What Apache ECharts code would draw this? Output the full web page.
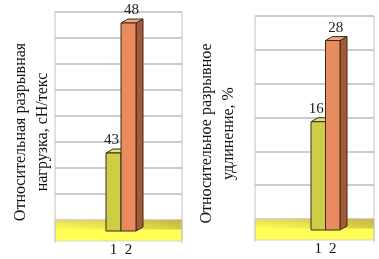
<!DOCTYPE html>
<html>
<head>
<meta charset="utf-8">
<script src="https://cdn.jsdelivr.net/npm/echarts@6/dist/echarts.min.js"></script>
<style>
  html, body { margin: 0; padding: 0; background: #fff; }
  #main { width: 379px; height: 259px; }
</style>
</head>
<body>
<div id="main"></div>
<script>
// данные
const categories = ['1', '2'];
const loadValues = [43, 48];        // относительная разрывная нагрузка, сН/текс
const elongValues = [16, 28];       // относительное разрывное удлинение, %
const loadAxis = [40, 48, 1];       // min, max, interval
const elongAxis = [0, 30, 5];
const loadName = 'Относительная разрывная\nнагрузка, сН/текс';
const elongName = 'Относительное разрывное\nудлинение, %';

const FONT = '"Liberation Serif", "Times New Roman", serif';
const DY = 11, DX = 7, DZ = 4, FLOOR = 21;
const faces = [
    { front: '#cdcd46', top: '#e2e27a', side: '#9a9a2c', labelShift: -2 },
    { front: '#e88c60', top: '#efa77f', side: '#a55a37', labelShift: 3 }
];

let myChart = echarts.init(document.getElementById('main'));

function floorItem(params, api) {
    let cs = params.coordSys;
    let y0 = cs.y + cs.height;
    return {
        type: 'group',
        children: [
            {
                type: 'rect',
                shape: { x: cs.x, y: y0, width: cs.width, height: FLOOR },
                style: {
                    fill: new echarts.graphic.LinearGradient(0, 0, 0, 1, [
                        { offset: 0, color: '#e6dc58' },
                        { offset: 0.45, color: '#ffff55' },
                        { offset: 1, color: '#ffff55' }
                    ]),
                    stroke: '#d6d6c0', lineWidth: 1
                }
            },
            {
                type: 'rect',
                shape: { x: cs.x, y: y0, width: cs.width, height: FLOOR * 0.45 },
                style: {
                    fill: new echarts.graphic.LinearGradient(0, 0, 1, 0, [
                        { offset: 0, color: 'rgba(150,120,30,0)' },
                        { offset: 0.5, color: 'rgba(150,120,30,0.15)' },
                        { offset: 1, color: 'rgba(150,120,30,0.4)' }
                    ])
                }
            },
            {
                type: 'line',
                shape: { x1: cs.x, y1: cs.y, x2: cs.x, y2: y0 + FLOOR + 2 },
                style: { stroke: '#c4c4c4', lineWidth: 1 }
            },
            {
                type: 'line',
                shape: { x1: cs.x + cs.width, y1: cs.y, x2: cs.x + cs.width, y2: y0 + FLOOR + 2 },
                style: { stroke: '#c4c4c4', lineWidth: 1 }
            }
        ]
    };
}

function makeBarItem(axisMin) {
    return function (params, api) {
        let idx = api.value(0);
        let val = api.value(1);
        let c = faces[params.dataIndex];
        let top = api.coord([idx, val]);
        let bot = api.coord([idx, axisMin]);
        let w = api.size([1, 0])[0];
        let x0 = top[0] - w / 2, x1 = top[0] + w / 2;
        let yt = top[1] + DY, yb = bot[1] + DY;
        let stroke = { stroke: '#3b2a1c', lineWidth: 1 };
        return {
            type: 'group',
            children: [
                {
                    type: 'polygon',
                    shape: { points: [[x1, yt], [x1 + DX, yt - DZ], [x1 + DX, yb - DZ], [x1, yb]] },
                    style: Object.assign({ fill: c.side }, stroke)
                },
                {
                    type: 'polygon',
                    shape: { points: [[x0, yt], [x0 + DX, yt - DZ], [x1 + DX, yt - DZ], [x1, yt]] },
                    style: Object.assign({ fill: c.top }, stroke)
                },
                {
                    type: 'rect',
                    shape: { x: x0, y: yt, width: w, height: yb - yt },
                    style: Object.assign({ fill: c.front }, stroke)
                },
                {
                    type: 'text',
                    z2: 50,
                    style: {
                        text: String(val),
                        x: top[0] + c.labelShift,
                        y: yt - DZ - 1,
                        align: 'center',
                        verticalAlign: 'bottom',
                        font: '15px ' + FONT,
                        fill: '#222'
                    }
                }
            ]
        };
    };
}

function wallY(ax, name, gap, pad) {
    return {
        type: 'value', min: ax[0], max: ax[1], interval: ax[2],
        name: name, nameLocation: 'middle', nameGap: gap, nameRotate: 90,
        nameTextStyle: { fontFamily: FONT, fontSize: 16, color: '#111', lineHeight: 22, padding: pad },
        axisLine: { show: false }, axisTick: { show: false }, axisLabel: { show: false },
        splitLine: { lineStyle: { color: '#bdbdbd', width: 1.5 } }
    };
}

function barY(ax) {
    return {
        type: 'value', min: ax[0], max: ax[1], interval: ax[2],
        show: false, splitLine: { show: false }
    };
}

function catX(gridIndex) {
    return {
        type: 'category', gridIndex: gridIndex, data: categories,
        axisLine: { show: false }, axisTick: { show: false },
        axisLabel: { margin: 23, fontFamily: FONT, fontSize: 15, color: '#111' }
    };
}

function hiddenX(gridIndex) {
    return { type: 'value', gridIndex: gridIndex, min: 0, max: 1, show: false, splitLine: { show: false } };
}

let option = {
    backgroundColor: '#fff',
    animation: false,
    grid: [
        { left: 55, top: 12, width: 127, height: 208 },
        { left: 106, top: 12, width: 30, height: 208 },
        { left: 255, top: 16, width: 119, height: 203 },
        { left: 311, top: 16, width: 29, height: 203 }
    ],
    xAxis: [hiddenX(0), catX(1), hiddenX(2), catX(3)],
    yAxis: [
        Object.assign(wallY(loadAxis, loadName, 1, [0, 32, 0, 0]), { gridIndex: 0 }),
        Object.assign(barY(loadAxis), { gridIndex: 1 }),
        Object.assign(wallY(elongAxis, elongName, 15, [0, 32, 0, 0]), { gridIndex: 2 }),
        Object.assign(barY(elongAxis), { gridIndex: 3 })
    ],
    series: [
        { type: 'custom', xAxisIndex: 0, yAxisIndex: 0, renderItem: floorItem, data: [[0, loadAxis[0]]], silent: true, z: 1 },
        { type: 'custom', xAxisIndex: 1, yAxisIndex: 1, renderItem: makeBarItem(loadAxis[0]),
          data: loadValues.map((v, i) => [i, v]), clip: false, z: 2 },
        { type: 'custom', xAxisIndex: 2, yAxisIndex: 2, renderItem: floorItem, data: [[0, elongAxis[0]]], silent: true, z: 1 },
        { type: 'custom', xAxisIndex: 3, yAxisIndex: 3, renderItem: makeBarItem(elongAxis[0]),
          data: elongValues.map((v, i) => [i, v]), clip: false, z: 2 }
    ]
};

myChart.setOption(option);
window.onresize = function () {
    myChart.resize();
};
</script>
</body>
</html>
